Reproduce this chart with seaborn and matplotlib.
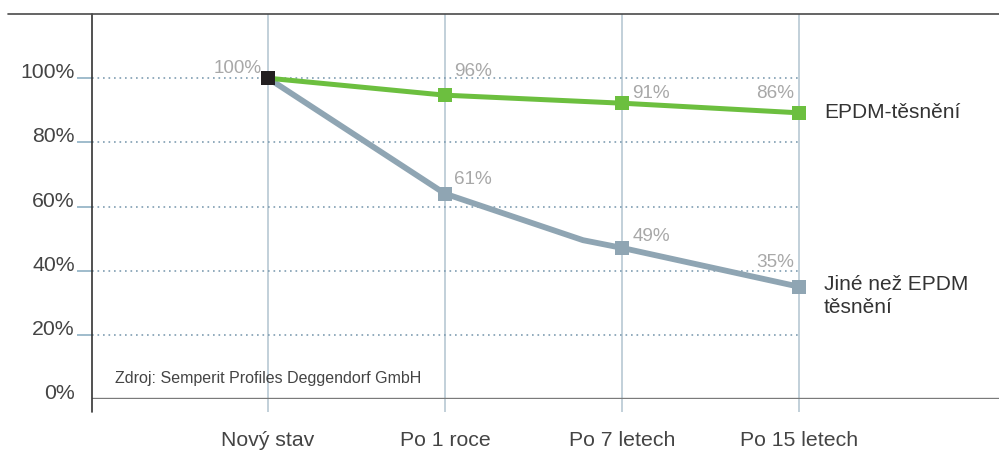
import matplotlib
matplotlib.use("Agg")
import matplotlib.pyplot as plt
import seaborn as sns
import pandas as pd
from matplotlib.lines import Line2D

# ---------------- data ----------------
categories = ["Nový stav", "Po 1 roce", "Po 7 letech", "Po 15 letech"]
epdm_values = [100, 94.7, 92.2, 89.2]
other_values = [100, 64.0, 47.1, 35.0]
epdm_labels = ["100%", "96%", "91%", "86%"]
other_labels = ["", "61%", "49%", "35%"]
# extra bend of the grey curve between "Po 1 roce" and "Po 7 letech" (no marker)
other_bend_pos = 1.78
other_bend_value = 49.5
y_ticks = [0, 20, 40, 60, 80, 100]
y_tick_labels = ["0%", "20%", "40%", "60%", "80%", "100%"]
series_names = ["EPDM-těsnění", "Jiné než EPDM\ntěsnění"]
source_text = "Zdroj: Semperit Profiles Deggendorf GmbH"

GREEN = "#6cbf3f"
GREY = "#8fa5b3"
BLACK = "#231f20"

sns.set_style("white")
plt.rcParams["font.family"] = ["Liberation Sans", "DejaVu Sans"]

W, H = 999, 450
fig = plt.figure(figsize=(W / 100, H / 100), dpi=100)
ax = fig.add_axes([92 / W, 1 - 399 / H, 1 - 92 / W, (399 - 14) / H])

xpos = list(range(len(categories)))
epdm_df = pd.DataFrame({"x": xpos, "y": epdm_values})
other_x = xpos[:2] + [other_bend_pos] + xpos[2:]
other_y = other_values[:2] + [other_bend_value] + other_values[2:]
other_df = pd.DataFrame({"x": other_x, "y": other_y})

xmin, xmax = -0.994, 4.13
ax.set_xlim(xmin, xmax)
ax.set_ylim(0, 120)

# dotted horizontal grid lines (ending at the last category)
ax.hlines(y_ticks[1:], xmin, xpos[-1], colors="#7f9db2", linewidth=1.2,
          linestyles=(0, (1, 2.3)), zorder=1)

# lines
sns.lineplot(data=other_df, x="x", y="y", color=GREY, linewidth=4.2,
             estimator=None, sort=False, ax=ax, zorder=3)
sns.lineplot(data=epdm_df, x="x", y="y", color=GREEN, linewidth=3.6,
             estimator=None, sort=False, ax=ax, zorder=4)
# markers
sns.scatterplot(x=xpos[1:], y=other_values[1:], marker="s", s=105, color=GREY,
                edgecolor="none", linewidth=0, ax=ax, zorder=5)
sns.scatterplot(x=xpos[1:], y=epdm_values[1:], marker="s", s=105, color=GREEN,
                edgecolor="none", linewidth=0, ax=ax, zorder=5)
sns.scatterplot(x=xpos[:1], y=epdm_values[:1], marker="s", s=105, color=BLACK,
                edgecolor="none", linewidth=0, ax=ax, zorder=6)

# spines / frame
for s in ax.spines.values():
    s.set_visible(False)
ax.axhline(0, color="#7a7a7a", linewidth=1.7, zorder=2)
ax.plot([0, 0], [-13 / 385, 1], transform=ax.transAxes, color="#333333",
        linewidth=1.2, clip_on=False, zorder=2)
fig.add_artist(Line2D([8 / W, 1], [1 - 14 / H, 1 - 14 / H], color="#4a4a4a",
                      linewidth=1.2, transform=fig.transFigure))

# x axis: ticks + vertical grid
ax.set_xticks(xpos)
ax.set_xticklabels(categories)
ax.tick_params(axis="x", direction="out", length=9.4, width=1.2,
               color="#b7c8d3", pad=14, labelsize=15.3, labelcolor="#444444",
               bottom=True)
ax.grid(axis="x", color="#b7c8d3", linewidth=1.2, zorder=0)
ax.grid(axis="y", visible=False)
ax.set_axisbelow(True)

# y axis
ax.set_yticks(y_ticks)
ax.set_yticklabels(y_tick_labels)
ax.tick_params(axis="y", direction="out", length=10.8, width=1.2,
               color="#8fb0c4", pad=1.5, labelsize=15.3, labelcolor="#444444",
               left=True)
for lbl in ax.get_yticklabels():
    lbl.set_va("baseline")
ax.yaxis.get_major_ticks()[0].tick1line.set_visible(False)
ax.set_xlabel("")
ax.set_ylabel("")

# value labels
val_color = "#a8a8a8"
epdm_offsets = [(-6, 5, "right"), (9, 19, "left"), (10, 5, "left"), (-5, 15, "right")]
other_offsets = [None, (9, 10, "left"), (11, 7, "left"), (-5, 20, "right")]
for i in range(len(categories)):
    dx, dy, ha = epdm_offsets[i]
    ax.annotate(epdm_labels[i], (xpos[i], epdm_values[i]), xytext=(dx, dy),
                textcoords="offset pixels", ha=ha, va="baseline",
                fontsize=13.6, color=val_color, zorder=7)
    if other_labels[i]:
        dx, dy, ha = other_offsets[i]
        ax.annotate(other_labels[i], (xpos[i], other_values[i]), xytext=(dx, dy),
                    textcoords="offset pixels", ha=ha, va="baseline",
                    fontsize=13.6, color=val_color, zorder=7)

# series names
ax.annotate(series_names[0], (xpos[-1], epdm_values[-1]), xytext=(25, 0),
            textcoords="offset pixels", ha="left", va="center",
            fontsize=15, color="#333333")
ax.annotate(series_names[1], (xpos[-1], other_values[-1]), xytext=(25, 12),
            textcoords="offset pixels", ha="left", va="top",
            fontsize=15, color="#333333", linespacing=1.3)

# source note
fig.text(115 / W, 1 - 379 / H, source_text, ha="left", va="center",
         fontsize=11.5, color="#444444")

fig.savefig("out.png", dpi=100)
